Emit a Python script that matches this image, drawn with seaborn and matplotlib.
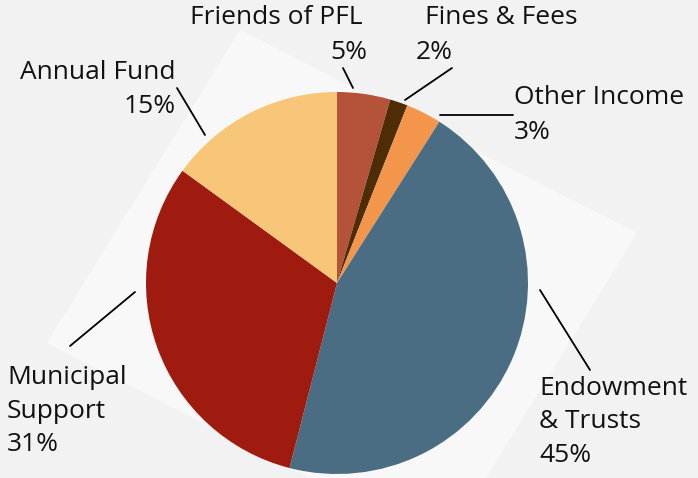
import matplotlib
matplotlib.use("Agg")
import matplotlib.pyplot as plt
import seaborn as sns
from matplotlib.patches import Polygon
from matplotlib.lines import Line2D

# slices clockwise from 12 o'clock
sources = ["Friends of PFL", "Fines & Fees", "Other Income",
           "Endowment\n& Trusts", "Municipal\nSupport", "Annual Fund"]
shares = [4.5, 1.5, 3, 45, 31, 15]
pct_labels = ["5%", "2%", "3%", "45%", "31%", "15%"]
colors = ["#b5533a", "#4d2c06", "#f3954a", "#4a6d84", "#9f1b10", "#f8c678"]

sns.set_theme(style="white")
plt.rcParams["font.family"] = ["Open Sans", "DejaVu Sans"]

W, H = 698, 478
fig = plt.figure(figsize=(W / 100, H / 100), dpi=100)
fig.patch.set_facecolor("#f2f2f2")
ax = fig.add_axes([0, 0, 1, 1])

def py(y):
    return H - y

# faint rotated white panel behind the pie
panel = Polygon([(240, py(30)), (637, py(233)), (444, py(546)), (47, py(343))],
                closed=True, facecolor="white", edgecolor="none", alpha=0.5, zorder=0)
ax.add_patch(panel)

ax.pie(shares, colors=colors, startangle=90, counterclock=False,
       center=(337, py(283)), radius=191, frame=True,
       wedgeprops=dict(linewidth=0, zorder=2))
ax.set_xlim(0, W)
ax.set_ylim(0, H)
ax.axis("off")

fs = 19
txt = dict(fontsize=fs, color="#111111", va="center")

# label placements (pixel positions of text, leader lines)
ax.text(276, py(17), sources[0], ha="center", **txt)
ax.text(367, py(52), pct_labels[0], ha="right", **txt)
ax.text(501, py(17), sources[1], ha="center", **txt)
ax.text(416, py(52), pct_labels[1], ha="left", **txt)
ax.text(514, py(97), sources[2], ha="left", **txt)
ax.text(514, py(132), pct_labels[2], ha="left", **txt)
ax.text(176, py(72), sources[5], ha="right", **txt)
ax.text(176, py(106), pct_labels[5], ha="right", **txt)
ax.text(7, py(411), sources[4] + "\n" + pct_labels[4], ha="left",
        linespacing=1.45, **txt)
ax.text(539, py(422), sources[3] + "\n" + pct_labels[3], ha="left",
        linespacing=1.45, **txt)

leaders = [
    ((343, 68), (353, 88)),
    ((452, 68), (405, 100)),
    ((440, 115), (513, 115)),
    ((177, 88), (205, 135)),
    ((135, 292), (70, 346)),
    ((540, 290), (590, 370)),
]
for (x0, y0), (x1, y1) in leaders:
    ax.add_line(Line2D([x0, x1], [py(y0), py(y1)], color="black", lw=1.3, zorder=3))

fig.savefig("out.png", dpi=100, facecolor=fig.get_facecolor())
